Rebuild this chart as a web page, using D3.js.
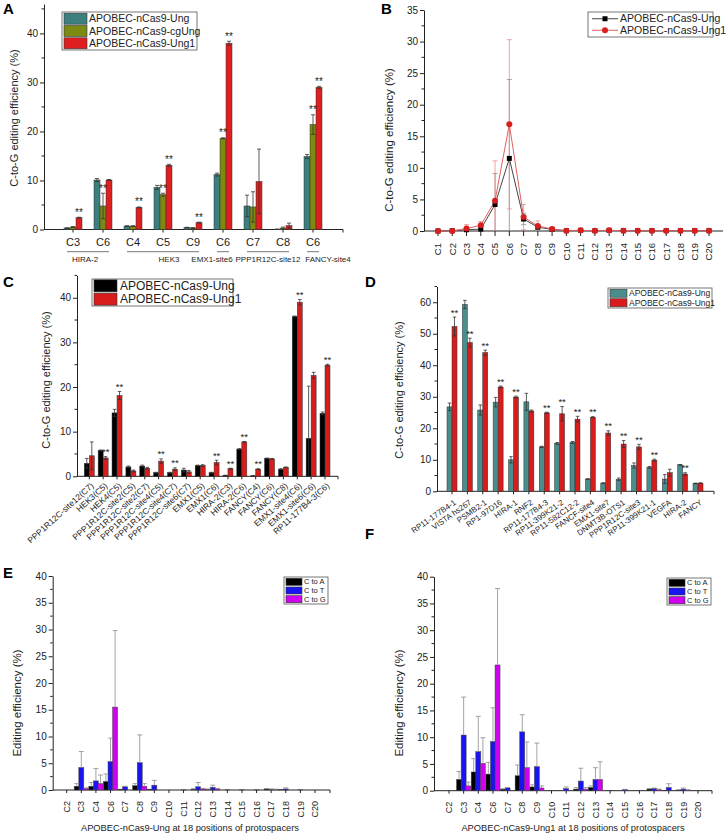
<!DOCTYPE html>
<html><head><meta charset="utf-8">
<script src="https://cdn.jsdelivr.net/npm/d3@7"></script>
<style>body{margin:0;background:#fff}svg{display:block}</style>
</head><body><svg id="c" width="726" height="835"></svg>
<script>
// ---------------- DATA ----------------
// Panel A
const A_cats = ["C3","C6","C4","C5","C9","C6","C7","C8","C6"];
const A_groups = ["HIRA-2","HEK3","EMX1-site6","PPP1R12C-site12","FANCY-site4"];
const A_groupStart = [0,2,5,6,8];
const A_groupEnd = [1,4,5,7,8];
const A_series = ["APOBEC-nCas9-Ung","APOBEC-nCas9-cgUng","APOBEC-nCas9-Ung1"];
const A_ung = [0.3,10.1,0.7,8.6,0.4,11.2,4.8,0.05,14.9];
const A_ungErr = [0.05,0.3,0.05,0.4,0.05,0.3,2.2,0.05,0.4];
const A_cg = [0.5,4.8,0.7,7.1,0.3,18.6,4.6,0.3,21.4];
const A_cgErr = [0.1,2.6,0.05,0.3,0.1,0.1,3.1,0.2,2.0];
const A_ung1 = [2.4,10.1,4.5,13.1,1.4,38.0,9.8,0.8,29.0];
const A_ung1Err = [0.1,0.1,0.1,0.2,0.1,0.4,6.6,0.5,0.2];
const A_sigCg = [0,1,0,1,0,1,0,0,1];
const A_sigUng1 = [1,0,1,1,1,1,0,0,1];
const A_yTicks = [0,10,20,30,40];

// Panel B
const B_cats = ["C1","C2","C3","C4","C5","C6","C7","C8","C9","C10","C11","C12","C13","C14","C15","C16","C17","C18","C19","C20"];
const B_series = ["APOBEC-nCas9-Ung","APOBEC-nCas9-Ung1"];
const B_ung = [0,0.05,0.2,0.3,4.2,11.5,1.9,0.6,0.25,0.05,0.1,0.05,0.1,0.05,0.05,0.05,0.05,0.05,0.05,0.05];
const B_ungErr = [0,0,0.1,0.3,4.9,12.5,0.9,0.3,0.1,0,0,0,0,0,0,0,0,0,0,0];
const B_ung1 = [0,0,0.4,0.9,4.8,16.9,2.2,0.8,0.3,0.05,0.1,0.05,0.1,0.05,0.05,0.05,0.05,0.05,0.05,0.05];
const B_ung1Err = [0,0,0.6,0.6,6.3,13.4,2.0,0.8,0.1,0,0,0,0,0,0,0,0,0,0,0];
const B_yTicks = [0,5,10,15,20,25,30,35];

// Panel C
const C_cats = ["PPP1R12C-site12(C7)","HEK3(C5)","HEK4(C5)","PPP1R12C-site2(C5)","PPP1R12C-site2(C7)","PPP1R12C-site4(C5)","PPP1R12C-site4(C7)","PPP1R12C-site6(C7)","EMX1(C5)","EMX1(C6)","HIRA-2(C3)","HIRA-2(C6)","FANCY(C4)","FANCY(C6)","FANCY(C8)","EMX1-site4(C6)","EMX1-site6(C6)","RP11-177B4-3(C6)"];
const C_series = ["APOBEC-nCas9-Ung","APOBEC-nCas9-Ung1"];
const C_ung = [2.9,5.8,14.2,2.1,2.3,0.8,0.8,1.4,2.4,0.8,0.2,6.1,0.1,4.0,1.6,35.8,8.5,14.1];
const C_ungErr = [1.1,0.1,0.8,0.2,0.2,0.1,0.1,0.4,0.1,0.1,0.05,0.1,0.05,0.1,0.1,0.1,11.7,0.3];
const C_ung1 = [4.6,4.1,18.1,1.2,1.8,3.4,1.6,1.0,2.4,3.1,1.7,7.7,1.6,3.9,2.0,39.0,22.6,24.9];
const C_ung1Err = [3.1,0.3,0.9,0.2,0.2,0.5,0.3,0.3,0.2,0.5,0.1,0.1,0.1,0.1,0.1,0.6,0.7,0.2];
const C_sig = [0,1,1,0,0,1,1,0,0,1,1,1,1,0,0,1,0,1];
const C_yTicks = [0,10,20,30,40];

// Panel D
const D_cats = ["RP11-177B4-1","VISTA hs267","PSMB2-1","RP1-97D16","HIRA-1","RNF2","RP11-177B4-3","RP11-399K21-2","RP11-582C12-2","FANCF-site4","EMX1-site7","DNMT3B-OTS1","PPP1R12C-site3","RP11-399K21-1","VEGFA","HIRA-2","FANCY"];
const D_series = ["APOBEC-nCas9-Ung","APOBEC-nCas9-Ung1"];
const D_ung = [26.8,59.3,25.8,28.3,10.0,28.4,14.1,15.2,15.5,3.9,2.6,3.8,8.2,7.6,3.9,8.4,2.5];
const D_ungErr = [1.2,1.3,1.6,1.5,1.0,2.7,0.2,0.3,0.3,0.1,0.1,0.4,0.8,0.3,1.4,0.1,0.1];
const D_ung1 = [52.3,47.2,44.0,33.1,29.9,25.5,24.9,24.6,22.9,23.5,18.5,15.0,14.1,9.9,5.9,5.5,2.6];
const D_ung1Err = [3.0,1.4,0.8,0.3,0.3,0.3,0.2,2.3,0.9,0.2,0.7,1.1,0.8,0.3,1.1,0.4,0.1];
const D_sig = [1,1,1,1,1,0,1,1,1,1,1,1,1,1,0,1,0];
const D_yTicks = [0,10,20,30,40,50,60];

// Panels E & F
const EF_cats = ["C2","C3","C4","C6","C7","C8","C9","C10","C11","C12","C13","C14","C15","C16","C17","C18","C19","C20"];
const EF_series = ["C to A","C to T","C to G"];
const EF_yTicks = [0,5,10,15,20,25,30,35,40];
const E_toA = [0,0.7,0.7,1.6,0.15,0.8,0.15,0,0,0.15,0.1,0,0,0,0.2,0.1,0,0];
const E_toAErr = [0,0.5,0.7,1.4,0,0.4,0,0,0,0.1,0.1,0,0,0,0.05,0,0,0];
const E_toT = [0,4.2,1.7,5.3,0.6,5.1,0.9,0,0.03,0.6,0.5,0.03,0.03,0.03,0.15,0.2,0.03,0];
const E_toTErr = [0,3.0,2.3,4.4,0.1,5.2,0.9,0,0,0.8,0.4,0,0,0,0.05,0.2,0,0];
const E_toG = [0,0.3,1.2,15.5,0,0.7,0,0,0,0.2,0.2,0,0,0,0.1,0,0,0];
const E_toGErr = [0,0.1,1.6,14.3,0,0.5,0,0,0,0.1,0.1,0,0,0,0.05,0,0,0];
const F_toA = [0,2.1,3.5,3.1,0.3,2.8,0.7,0,0,0.3,0.6,0,0,0,0.3,0.05,0.1,0];
const F_toAErr = [0,1.5,2.5,2.2,0.05,2.0,0.4,0,0,0.3,0.3,0,0,0,0.1,0,0.1,0];
const F_toT = [0,10.4,7.3,9.2,0.5,11.0,4.5,0.03,0.4,1.8,2.1,0.05,0.2,0.05,0.4,0.6,0.3,0];
const F_toTErr = [0,7.1,6.6,6.3,0.1,3.2,4.4,0,0.3,2.4,2.2,0,0.05,0,0.1,0.7,0.2,0];
const F_toG = [0,0.9,5.1,23.5,0,4.3,0.5,0,0,0.3,2.1,0,0,0,0.2,0,0.1,0];
const F_toGErr = [0,0.7,4.8,14.3,0,4.8,0.4,0,0,0.3,3.3,0,0,0,0.1,0,0.1,0];

// ---------------- DRAWING ----------------
const FONT = '"Liberation Sans", Arial, Helvetica, sans-serif';
const INK = "#222";
const svg = d3.select("#c").attr("font-family", FONT);

function yAxis(y, xpos, ticks, fs, minorStep, tickLen=4){
  const ax = d3.axisLeft(y).tickValues(ticks).tickSize(tickLen).tickSizeOuter(0).tickPadding(2);
  const a = svg.append("g").attr("transform",`translate(${xpos},0)`).call(ax);
  a.selectAll("text").attr("font-size",fs).attr("font-family",FONT).attr("fill",INK);
  a.select(".domain").attr("stroke",INK);
  a.selectAll(".tick line").attr("stroke",INK);
  if(minorStep){
    const [d0,d1] = y.domain();
    const m = d3.range(d0, d1+1e-9, minorStep).filter(v=>!ticks.some(t=>Math.abs(t-v)<1e-9));
    a.selectAll(".minor").data(m).join("line").attr("class","minor")
      .attr("x1",-2.5).attr("x2",0).attr("y1",d=>y(d)).attr("y2",d=>y(d)).attr("stroke",INK);
  }
  return a;
}
function xBase(x, y, x0, x1, tickLen=3, extraTicks=[]){
  const g = svg.append("g");
  g.append("line").attr("x1",x0).attr("x2",x1).attr("y1",y(0)).attr("y2",y(0)).attr("stroke",INK);
  const ticks = x.domain().map(d=>x(d)).concat(extraTicks);
  g.selectAll(".xt").data(ticks).join("line").attr("x1",d=>d).attr("x2",d=>d)
    .attr("y1",y(0)).attr("y2",y(0)+tickLen).attr("stroke",INK);
  return g;
}
function errBar(g, cx, y, v, e, color, cap, upOnly){
  if(!e) return;
  const top = y(v+e), bot = upOnly ? y(v) : y(Math.max(0, v-e));
  g.append("line").attr("x1",cx).attr("x2",cx).attr("y1",top).attr("y2",bot).attr("stroke",color).attr("stroke-width",0.8);
  g.append("line").attr("x1",cx-cap/2).attr("x2",cx+cap/2).attr("y1",top).attr("y2",top).attr("stroke",color).attr("stroke-width",0.8);
  if(!upOnly && v-e>0)
    g.append("line").attr("x1",cx-cap/2).attr("x2",cx+cap/2).attr("y1",bot).attr("y2",bot).attr("stroke",color).attr("stroke-width",0.8);
}
function groupedBars(opt){
  // opt: x, y, series:[{vals,errs,color,sig}], bw, step, errColor, cap, upOnly, sigFs
  const g = svg.append("g");
  const n = opt.series.length;
  opt.series.forEach((s,si)=>{
    const off = (si-(n-1)/2)*opt.step;
    opt.x.domain().forEach((c,i)=>{
      const cx = opt.x(c)+off, v = s.vals[i];
      g.append("rect").attr("x",cx-opt.bw/2).attr("width",opt.bw)
        .attr("y",opt.y(v)).attr("height",Math.max(0,opt.y(0)-opt.y(v)))
        .attr("fill",s.color).attr("stroke",opt.stroke||"#333").attr("stroke-width",0.5);
    });
  });
  opt.series.forEach((s,si)=>{
    const off = (si-(n-1)/2)*opt.step;
    opt.x.domain().forEach((c,i)=>{
      const cx = opt.x(c)+off, v = s.vals[i], e = s.errs[i];
      errBar(g, cx, opt.y, v, e, opt.errColor, opt.cap, opt.upOnly);
      if(s.sig && s.sig[i]){
        g.append("text").attr("x",cx).attr("y",opt.y(v+e)-1.5).attr("text-anchor","middle")
          .attr("font-size",opt.sigFs||10).attr("fill",INK).text("**");
      }
    });
  });
  return g;
}
function yTitle(txt, x, y, fs){
  svg.append("text").attr("transform",`translate(${x},${y}) rotate(-90)`).attr("text-anchor","middle")
    .attr("font-size",fs).attr("fill",INK).text(txt);
}
function panelLetter(l, x, y){
  svg.append("text").attr("x",x).attr("y",y).attr("font-size",15).attr("font-weight","bold").attr("fill","#000").text(l);
}
function legendBox(x, y, w, h, items, sw, swh, fs, rowH, textX, drawSym){
  const g = svg.append("g");
  g.append("rect").attr("x",x).attr("y",y).attr("width",w).attr("height",h).attr("fill","#fff").attr("stroke","#555").attr("stroke-width",0.8);
  items.forEach((it,i)=>{
    const cy = y + rowH*(i+0.5) + (h-rowH*items.length)/2;
    if(drawSym) drawSym(g, it, cy);
    else g.append("rect").attr("x",x+2).attr("y",cy-swh/2).attr("width",sw).attr("height",swh).attr("fill",it.color).attr("stroke","#333").attr("stroke-width",0.6);
    g.append("text").attr("x",textX).attr("y",cy).attr("dy","0.35em").attr("font-size",fs).attr("fill",INK).text(it.name);
  });
}

// ===== Panel A =====
{
  const TEAL="#3c7f7f", OLIVE="#7d8a12", RED="#df1f1f";
  const y = d3.scaleLinear().domain([0,46]).range([229.5,4]);
  const x = d3.scalePoint().domain(d3.range(A_cats.length)).range([73,313]);
  yAxis(y, 44, A_yTicks, 10, 5);
  xBase(x, y, 44, 343, 3, [343]);
  groupedBars({x,y,bw:6,step:6,errColor:"#333",cap:4,series:[
    {vals:A_ung,errs:A_ungErr,color:TEAL},
    {vals:A_cg,errs:A_cgErr,color:OLIVE,sig:A_sigCg},
    {vals:A_ung1,errs:A_ung1Err,color:RED,sig:A_sigUng1}]});
  svg.append("g").selectAll("text").data(A_cats).join("text")
    .attr("x",(d,i)=>x(i)).attr("y",246).attr("text-anchor","middle").attr("font-size",11).attr("fill",INK).text(d=>d);
  const labelDx = [-3,6,-11,0,15];
  A_groups.forEach((gname,gi)=>{
    const xa = x(A_groupStart[gi])-6, xb = x(A_groupEnd[gi])+6;
    svg.append("line").attr("x1",xa).attr("x2",xb).attr("y1",251.7).attr("y2",251.7).attr("stroke","#777").attr("stroke-width",1);
    svg.append("text").attr("x",(xa+xb)/2+labelDx[gi]).attr("y",262).attr("text-anchor","middle").attr("font-size",8).attr("fill",INK).text(gname);
  });
  yTitle("C-to-G editing efficiency (%)", 18, 118, 11);
  legendBox(62,12,135,38,A_series.map((s,i)=>({name:s,color:[TEAL,OLIVE,RED][i]})),23,11,10.5,12.3,89);
  panelLetter("A",3,14);
}

// ===== Panel B =====
{
  const y = d3.scaleLinear().domain([0,35]).range([231,10]).clamp(true);
  const x = d3.scalePoint().domain(B_cats).range([438,709]);
  yAxis(y, 424, B_yTicks, 10, 2.5);
  const xb = xBase(x, y, 424, 723, 5);
  svg.append("g").selectAll("text").data(B_cats).join("text")
    .attr("transform",d=>`translate(${x(d)},${y(0)+12}) rotate(-90)`).attr("text-anchor","end").attr("dy","0.35em")
    .attr("font-size",9.5).attr("fill",INK).text(d=>d);
  const g = svg.append("g");
  const sets = [
    {vals:B_ung,errs:B_ungErr,line:"#444",err:"#8a8a8a",mk:"#000",sym:"square"},
    {vals:B_ung1,errs:B_ung1Err,line:"#e06060",err:"#ec8a8a",mk:"#d81e1e",sym:"circle"}];
  sets.forEach(s=>{ B_cats.forEach((c,i)=>errBar(g,x(c),y,s.vals[i],s.errs[i],s.err,5,false)); });
  sets.forEach(s=>{
    g.append("path").datum(s.vals).attr("fill","none").attr("stroke",s.line).attr("stroke-width",1)
      .attr("d",d3.line().x((d,i)=>x(B_cats[i])).y(d=>y(d)));
  });
  sets.forEach(s=>{
    if(s.sym==="square")
      g.selectAll(null).data(s.vals).join("rect").attr("x",(d,i)=>x(B_cats[i])-2.5).attr("y",d=>y(d)-2.5).attr("width",5).attr("height",5).attr("fill",s.mk);
    else
      g.selectAll(null).data(s.vals).join("circle").attr("cx",(d,i)=>x(B_cats[i])).attr("cy",d=>y(d)).attr("r",3).attr("fill",s.mk);
  });
  yTitle("C-to-G editing efficiency (%)", 393, 140, 11.5);
  legendBox(588,12,125,25,B_series.map((s,i)=>({name:s,set:sets[i]})),0,0,10.5,11.5,620,(gg,it,cy)=>{
    gg.append("line").attr("x1",592).attr("x2",618).attr("y1",cy).attr("y2",cy).attr("stroke",it.set.line);
    if(it.set.sym==="square") gg.append("rect").attr("x",602.5).attr("y",cy-2.5).attr("width",5).attr("height",5).attr("fill",it.set.mk);
    else gg.append("circle").attr("cx",605).attr("cy",cy).attr("r",3).attr("fill",it.set.mk);
  });
  panelLetter("B",381,14);
}

// ===== Panel C =====
{
  const RED="#d81c1c";
  const y = d3.scaleLinear().domain([0,45]).range([476.3,275.4]);
  const x = d3.scalePoint().domain(C_cats).range([89.3,325]);
  yAxis(y, 77, C_yTicks, 10, 5);
  xBase(x, y, 77, 338, 3, [338]);
  groupedBars({x,y,bw:5,step:5,errColor:"#333",cap:3.5,sigFs:9.5,series:[
    {vals:C_ung,errs:C_ungErr,color:"#000"},
    {vals:C_ung1,errs:C_ung1Err,color:RED,sig:C_sig}]});
  svg.append("g").selectAll("text").data(C_cats).join("text")
    .attr("transform",d=>`translate(${x(d)+3},${y(0)+8}) rotate(-42)`).attr("text-anchor","end").attr("dy","0.35em")
    .attr("font-size",8.5).attr("fill",INK).text(d=>d);
  yTitle("C-to-G editing efficiency (%)", 50, 380, 11);
  legendBox(92,279,141,27,C_series.map((s,i)=>({name:s,color:["#000",RED][i]})),23,12,12,13.3,120);
  panelLetter("C",3,287);
}

// ===== Panel D =====
{
  const TEAL="#4a8d8d", RED="#d81c1c";
  const y = d3.scaleLinear().domain([0,65]).range([491.3,286.5]);
  const x = d3.scalePoint().domain(D_cats).range([452,698]);
  yAxis(y, 437, D_yTicks, 10, 5);
  xBase(x, y, 437, 714, 3, [714]);
  groupedBars({x,y,bw:5,step:5,errColor:"#333",cap:3.5,sigFs:9.5,series:[
    {vals:D_ung,errs:D_ungErr,color:TEAL},
    {vals:D_ung1,errs:D_ung1Err,color:RED,sig:D_sig}]});
  svg.append("g").selectAll("text").data(D_cats).join("text")
    .attr("transform",d=>`translate(${x(d)+3},${y(0)+10}) rotate(-35)`).attr("text-anchor","end").attr("dy","0.35em")
    .attr("font-size",8).attr("fill",INK).text(d=>d);
  yTitle("C-to-G editing efficiency  (%)", 403, 390, 11);
  legendBox(608,288,104,20,D_series.map((s,i)=>({name:s,color:[TEAL,RED][i]})),17,8,8.5,9.5,629);
  panelLetter("D",365,287);
}

// ===== Panels E & F =====
function efPanel(axX, y0px, y40px, x0, x1, axEnd, A, AE, T, TE, G, GE, title, titleX, yTitleX, leg, letter, letterPos){
  const cols = ["#000000","#1a14f0","#d000f0"];
  const y = d3.scaleLinear().domain([0,40]).range([y0px,y40px]);
  const x = d3.scalePoint().domain(EF_cats).range([x0,x1]);
  yAxis(y, axX, EF_yTicks, 10, 2.5);
  xBase(x, y, axX, axEnd, 3, [axEnd]);
  groupedBars({x,y,bw:5,step:4.6,errColor:"#8c8c8c",cap:5,upOnly:true,stroke:"#444",series:[
    {vals:A,errs:AE,color:cols[0]},{vals:T,errs:TE,color:cols[1]},{vals:G,errs:GE,color:cols[2]}]});
  svg.append("g").selectAll("text").data(EF_cats).join("text")
    .attr("transform",d=>`translate(${x(d)},${y(0)+11}) rotate(-90)`).attr("text-anchor","end").attr("dy","0.35em")
    .attr("font-size",9).attr("fill",INK).text(d=>d);
  svg.append("text").attr("x",titleX).attr("y",831).attr("text-anchor","middle").attr("font-size",9.3).attr("fill",INK).text(title);
  yTitle("Editing efficiency  (%)", yTitleX, 703, 11.5);
  legendBox(leg[0],leg[1],44,27,EF_series.map((s,i)=>({name:s,color:cols[i]})),16,7,7.5,8.7,leg[0]+20);
  panelLetter(letter, letterPos[0], letterPos[1]);
}
efPanel(52.7,790,576,66.7,315,330,E_toA,E_toAErr,E_toT,E_toTErr,E_toG,E_toGErr,
  "APOBEC-nCas9-Ung at 18 positions of protospacers",190,21,[284,577],"E",[3,578]);
efPanel(434,790.7,576.7,449,698,712,F_toA,F_toAErr,F_toT,F_toTErr,F_toG,F_toGErr,
  "APOBEC-nCas9-Ung1 at 18 positions of protospacers",573,403,[667,578],"F",[365,539]);
</script></body></html>
